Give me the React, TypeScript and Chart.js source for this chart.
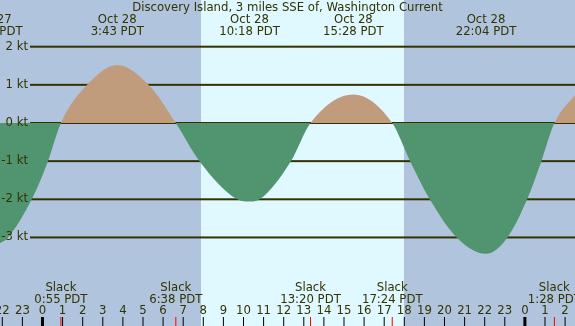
import React, { useEffect, useRef } from 'react';
import { Chart, registerables } from 'chart.js';

Chart.register(...registerables);

// Title
const TITLE = 'Discovery Island, 3 miles SSE of, Washington Current';

// Curve samples: hours since Oct 28 00:00 PDT, knots
const curveHours = [-2.5, -2.114, -1.716, -0.537, 0.274, 0.917, 2.22, 3.717, 5.28, 6.633, 7.81, 9.69, 10.3, 10.8, 12.36, 13.333, 15.467, 17.4, 18.29, 19.27, 20.61, 22.067, 23.13, 24.11, 24.82, 25.467, 26.6];
const curveKnots = [-3.25, -3.15, -3.0, -2.0, -1.0, 0, 1.0, 1.52, 1.0, 0, -1.0, -2.0, -2.06, -2.0, -1.0, 0, 0.75, 0, -1.0, -2.0, -3.0, -3.43, -3.0, -2.0, -1.0, 0, 0.8];

// Max current events (top labels)
const maxHours = [-2.5, 3.717, 10.3, 15.467, 22.067];
const maxDates = ['Oct 27', 'Oct 28', 'Oct 28', 'Oct 28', 'Oct 28'];
const maxTimes = ['21:30 PDT', '3:43 PDT', '10:18 PDT', '15:28 PDT', '22:04 PDT'];

// Slack events (bottom labels)
const slackHours = [0.917, 6.633, 13.333, 17.4, 25.467];
const slackTimes = ['0:55 PDT', '6:38 PDT', '13:20 PDT', '17:24 PDT', '1:28 PDT'];

// Daylight band
const sunriseHour = 7.886;
const sunsetHour = 17.985;

// Knot levels
const ktLevels = [2, 1, 0, -1, -2, -3];
const ktLabels = ['2 kt', '1 kt', '0 kt', '-1 kt', '-2 kt', '-3 kt'];

// Hour ticks
const hourTicks = [-2, -1, 0, 1, 2, 3, 4, 5, 6, 7, 8, 9, 10, 11, 12, 13, 14, 15, 16, 17, 18, 19, 20, 21, 22, 23, 24, 25, 26];

const X_MIN = -2.114;
const X_MAX = 26.493;
const Y_MAX = 3.224;
const Y_MIN = -5.321;

const NIGHT = '#b0c4de';
const DAY = '#e0f8ff';
const FLOOD = '#c09c7c';
const EBB = '#509470';
const INK = '#333300';
const FONT = '11.7px "DejaVu Sans", sans-serif';

const drawPlugin = {
  id: 'tideDecor',
  beforeDraw(chart: any) {
    const { ctx, width, height } = chart;
    const x = chart.scales.x;
    const y = chart.scales.y;
    ctx.save();
    ctx.fillStyle = NIGHT;
    ctx.fillRect(0, 0, width, height);
    const x1 = x.getPixelForValue(sunriseHour);
    const x2 = x.getPixelForValue(sunsetHour);
    ctx.fillStyle = DAY;
    ctx.fillRect(x1, 0, x2 - x1, height);
    ctx.fillStyle = INK;
    ktLevels.forEach((v) => {
      const py = y.getPixelForValue(v);
      ctx.fillRect(30, py - 1, width - 30, 2);
    });
    ctx.restore();
  },
  afterDatasetsDraw(chart: any) {
    const { ctx, width } = chart;
    const x = chart.scales.x;
    const y = chart.scales.y;
    ctx.save();
    ctx.font = FONT;
    ctx.fillStyle = INK;
    ctx.textBaseline = 'middle';
    // y labels
    ctx.textAlign = 'right';
    ktLevels.forEach((v, i) => {
      ctx.fillText(ktLabels[i], 28, y.getPixelForValue(v));
    });
    // title
    ctx.textAlign = 'center';
    ctx.fillText(TITLE, width / 2, 7.5);
    // max labels
    maxHours.forEach((h, i) => {
      const px = x.getPixelForValue(h);
      ctx.fillText(maxDates[i], px, 20);
      ctx.fillText(maxTimes[i], px, 31.5);
    });
    // slack labels
    slackHours.forEach((h, i) => {
      const px = x.getPixelForValue(h);
      ctx.fillText('Slack', px, 288);
      ctx.fillText(slackTimes[i], px, 299.5);
    });
    // hour labels and ticks
    hourTicks.forEach((h) => {
      const px = x.getPixelForValue(h);
      const lab = ((h % 24) + 24) % 24;
      ctx.fillStyle = INK;
      ctx.fillText(String(lab), px, 310.5);
      ctx.fillStyle = '#000000';
      if (lab === 0) {
        ctx.fillRect(px - 1.5, 317, 3, 9);
      } else {
        ctx.fillRect(px - 0.5, 317, 1, 9);
      }
    });
    ctx.fillStyle = '#ff0000';
    slackHours.forEach((h) => {
      const px = x.getPixelForValue(h);
      ctx.fillRect(px - 0.5, 317, 1, 9);
    });
    ctx.restore();
  },
};

export default function App() {
  const ref = useRef<HTMLCanvasElement>(null);
  useEffect(() => {
    if (!ref.current) return;
    const chart = new Chart(ref.current, {
      type: 'line',
      data: {
        datasets: [
          {
            data: curveHours.map((h, i) => ({ x: h, y: curveKnots[i] })),
            borderWidth: 0,
            borderColor: 'rgba(0,0,0,0)',
            pointRadius: 0,
            cubicInterpolationMode: 'monotone',
            fill: { target: 'origin', above: FLOOD, below: EBB },
          } as any,
        ],
      },
      options: {
        animation: false,
        responsive: false,
        layout: { padding: 0 },
        plugins: { legend: { display: false }, tooltip: { enabled: false } },
        scales: {
          x: { type: 'linear', min: X_MIN, max: X_MAX, display: false },
          y: { type: 'linear', min: Y_MIN, max: Y_MAX, display: false },
        },
      },
      plugins: [drawPlugin],
    });
    return () => chart.destroy();
  }, []);
  return (
    <div style={{ position: 'fixed', left: 0, top: 0, width: 575, height: 326 }}>
      <canvas ref={ref} width={575} height={326} style={{ display: 'block' }} />
    </div>
  );
}
